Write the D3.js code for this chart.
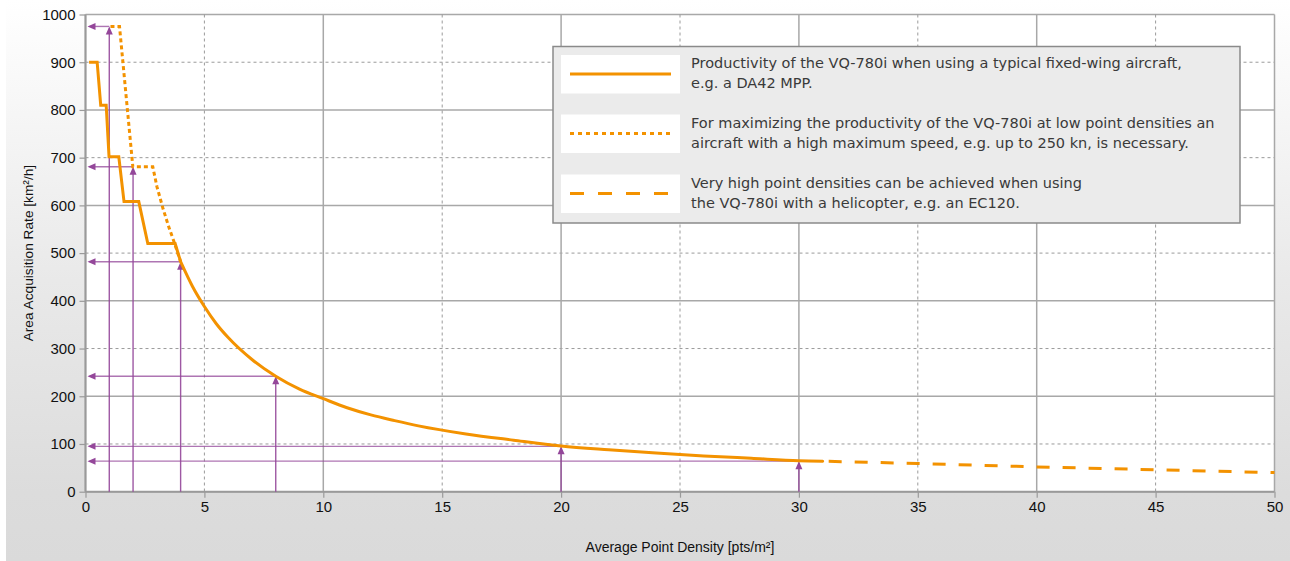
<!DOCTYPE html>
<html>
<head>
<meta charset="utf-8">
<script src="https://cdn.jsdelivr.net/npm/d3@7"></script>
<style>
  html, body { margin: 0; padding: 0; background: #fff; }
  svg { display: block; }
</style>
</head>
<body>
<svg id="chart" width="1290" height="561"></svg>
<script>
// ---------- DATA ----------
const xTicks = [0, 5, 10, 15, 20, 25, 30, 35, 40, 45, 50];
const yTicks = [0, 100, 200, 300, 400, 500, 600, 700, 800, 900, 1000];

// Fixed-wing aircraft (solid): stepped part, then smooth decay
const fixedWingStepX = [0.15, 0.49, 0.64, 0.87, 0.99, 1.40, 1.62, 2.24, 2.62, 3.77, 4.0];
const fixedWingStepY = [900, 900, 810, 810, 702, 702, 608, 608, 520, 520, 482];
const fixedWingCurveX = [4.0, 4.5, 5, 5.5, 6, 7, 8, 9, 10, 11, 12, 13, 14, 16, 18, 20, 22, 24, 26, 28, 30, 31];
const fixedWingCurveY = [482, 430, 388, 352, 323, 277, 242, 215, 195, 176, 161, 149, 138, 121, 108, 96, 88, 81, 75, 70, 65, 64];

// High-speed aircraft (dotted)
const highSpeedX = [1.05, 1.43, 1.99, 2.83, 3.0, 3.25, 3.5, 3.7, 4.0];
const highSpeedY = [975, 975, 681, 681, 640, 595, 555, 527, 482];

// Helicopter (dashed)
const heliX = [31, 35, 40, 45, 50];
const heliY = [64, 59, 52, 46, 40];

// Reference arrows
const arrowX = [1, 2, 4, 8, 20, 30];
const arrowY = [975, 681, 482, 242, 95, 64];

const legendLabels = [
  ["Productivity of the VQ-780i when using a typical fixed-wing aircraft,", "e.g. a DA42 MPP."],
  ["For maximizing the productivity of the VQ-780i at low point densities an", "aircraft with a high maximum speed, e.g. up to 250 kn, is necessary."],
  ["Very high point densities can be achieved when using", "the VQ-780i with a helicopter, e.g. an EC120."]
];
const legendDash = ["none", "4,4", "14,14"];

const xTitle = "Average Point Density [pts/m²]";
const yTitle = "Area Acquisition Rate [km²/h]";

// ---------- LAYOUT ----------
const W = 1290, H = 561;
const plot = { left: 85.5, right: 1274.5, top: 14.5, bottom: 491.7 };
const orange = "#f39200";
const purple = "#94479a";
const sansFont = "'Liberation Sans', Arial, sans-serif";

const svg = d3.select("#chart");
const defs = svg.append("defs");
const grad = defs.append("linearGradient").attr("id", "bg").attr("x1", 0).attr("y1", 0).attr("x2", 0).attr("y2", 1);
grad.append("stop").attr("offset", "0%").attr("stop-color", "#ffffff");
grad.append("stop").attr("offset", "50%").attr("stop-color", "#e9e9e9");
grad.append("stop").attr("offset", "88%").attr("stop-color", "#dcdcdc");
grad.append("stop").attr("offset", "100%").attr("stop-color", "#dadada");

svg.append("rect").attr("x", 0).attr("y", 0).attr("width", W).attr("height", H).attr("fill", "#fff");
svg.append("rect").attr("x", 6).attr("y", 0).attr("width", W - 6).attr("height", H).attr("fill", "url(#bg)");

const x = d3.scaleLinear().domain([0, 50]).range([plot.left, plot.right]);
const y = d3.scaleLinear().domain([0, 1000]).range([plot.bottom, plot.top]);

// plot background
svg.append("rect")
  .attr("x", plot.left).attr("y", plot.top)
  .attr("width", plot.right - plot.left).attr("height", plot.bottom - plot.top)
  .attr("fill", "#fff");

// grid lines
const g = svg.append("g");
yTicks.forEach((t, i) => {
  const major = i % 2 === 0;
  g.append("line")
    .attr("x1", plot.left).attr("x2", plot.right)
    .attr("y1", y(t)).attr("y2", y(t))
    .attr("stroke", major ? "#a8a8a8" : "#9a9a9a")
    .attr("stroke-width", major ? 1.5 : 1)
    .attr("stroke-dasharray", major ? null : "3,3");
});
xTicks.forEach((t, i) => {
  const major = i % 2 === 0;
  g.append("line")
    .attr("x1", x(t)).attr("x2", x(t))
    .attr("y1", plot.top).attr("y2", plot.bottom)
    .attr("stroke", major ? "#a8a8a8" : "#9a9a9a")
    .attr("stroke-width", major ? 1.5 : 1)
    .attr("stroke-dasharray", major ? null : "3,3");
});

// axes
const yAxis = d3.axisLeft(y).tickValues(yTicks).tickSize(6).tickPadding(4).tickFormat(d3.format("d"));
const xAxis = d3.axisBottom(x).tickValues(xTicks).tickSize(6).tickPadding(4).tickFormat(d3.format("d"));
const ya = svg.append("g").attr("transform", `translate(${plot.left},0)`).call(yAxis);
const xa = svg.append("g").attr("transform", `translate(0,${plot.bottom})`).call(xAxis);
[ya, xa].forEach(a => {
  a.select(".domain").attr("stroke", "#9a9a9a").attr("stroke-width", 2);
  a.selectAll(".tick line").attr("stroke", "#9a9a9a").attr("stroke-width", 1.2);
  a.selectAll(".tick text").attr("fill", "#111").style("font-family", sansFont).style("font-size", "15px");
});
ya.select(".domain").attr("d", `M0,${plot.bottom}V${plot.top}`);
xa.select(".domain").attr("d", `M${plot.left},0H${plot.right}`);

// arrows
const arrows = svg.append("g");
const arrowHead = (px, py, dir) => {
  const L = 8, Wd = 3.5;
  if (dir === "up") return `M${px},${py}L${px - Wd},${py + L}L${px + Wd},${py + L}Z`;
  return `M${px},${py}L${px + L},${py - Wd}L${px + L},${py + Wd}Z`;
};
arrowX.forEach((ax, i) => {
  const ay = arrowY[i];
  arrows.append("line")
    .attr("x1", x(ax)).attr("x2", x(ax))
    .attr("y1", y(0)).attr("y2", y(ay) + 2)
    .attr("stroke", purple).attr("stroke-width", 1.4).attr("opacity", 0.9);
  arrows.append("path").attr("d", arrowHead(x(ax), y(ay), "up")).attr("fill", purple);
  arrows.append("line")
    .attr("x1", x(ax)).attr("x2", x(0) + 4)
    .attr("y1", y(ay)).attr("y2", y(ay))
    .attr("stroke", purple).attr("stroke-width", 1.4).attr("opacity", 0.75);
  arrows.append("path").attr("d", arrowHead(x(0) + 2, y(ay), "left")).attr("fill", purple);
});

// series
const line = d3.line().x(d => x(d[0])).y(d => y(d[1]));
const smooth = d3.line().x(d => x(d[0])).y(d => y(d[1])).curve(d3.curveMonotoneX);
const seriesG = svg.append("g").attr("fill", "none").attr("stroke", orange).attr("stroke-width", 3);
seriesG.append("path").attr("d", line(d3.zip(highSpeedX, highSpeedY))).attr("stroke-dasharray", "4,3");
seriesG.append("path").attr("d", line(d3.zip(heliX, heliY))).attr("stroke-dasharray", "13,13").attr("stroke-dashoffset", -6);
seriesG.append("path").attr("d", line(d3.zip(fixedWingStepX, fixedWingStepY))).attr("stroke-linejoin", "miter");
seriesG.append("path").attr("d", smooth(d3.zip(fixedWingCurveX, fixedWingCurveY))).attr("stroke-linecap", "round");

// axis titles
svg.append("text")
  .attr("x", (plot.left + plot.right) / 2).attr("y", 552)
  .attr("text-anchor", "middle")
  .style("font-family", sansFont).style("font-size", "14px").attr("fill", "#111")
  .text(xTitle);
svg.append("text")
  .attr("transform", `translate(33,${(plot.top + plot.bottom) / 2}) rotate(-90)`)
  .attr("text-anchor", "middle")
  .style("font-family", sansFont).style("font-size", "13.7px").attr("fill", "#111")
  .text(yTitle);

// legend
const lg = svg.append("g");
lg.append("rect").attr("x", 553).attr("y", 46.5).attr("width", 687).attr("height", 176.5)
  .attr("fill", "#ebebeb").attr("stroke", "#8a8a8a").attr("stroke-width", 1.5);
const rowTop = [55, 114.5, 174.5];
legendLabels.forEach((lab, i) => {
  lg.append("rect").attr("x", 561).attr("y", rowTop[i]).attr("width", 119).attr("height", 38.5).attr("fill", "#fff");
  lg.append("line").attr("x1", 570).attr("x2", 671)
    .attr("y1", rowTop[i] + 19).attr("y2", rowTop[i] + 19)
    .attr("stroke", orange).attr("stroke-width", 3)
    .attr("stroke-dasharray", legendDash[i] === "none" ? null : legendDash[i]);
  lab.forEach((t, j) => {
    lg.append("text").attr("x", 691).attr("y", rowTop[i] + 13 + j * 20)
      .style("font-family", "'DejaVu Sans', sans-serif").style("font-size", "14.5px").attr("fill", "#3a3a3a")
      .text(t);
  });
});
</script>
</body>
</html>
